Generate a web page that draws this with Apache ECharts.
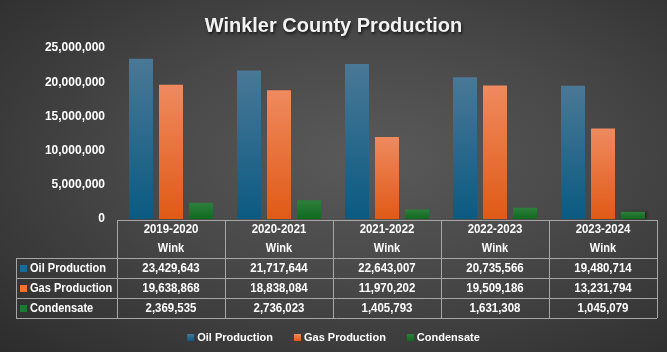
<!DOCTYPE html>
<html>
<head>
<meta charset="utf-8">
<script src="https://cdn.jsdelivr.net/npm/echarts@6/dist/echarts.min.js"></script>
<style>
  html, body { margin: 0; padding: 0; }
  #chart {
    width: 667px; height: 352px;
    background: radial-gradient(ellipse at 55% 45%, #5a5a5a 0%, #484848 45%, #2c2c2c 100%);
  }
</style>
</head>
<body>
<div id="chart"></div>
<script>
// data
var years = ['2019-2020', '2020-2021', '2021-2022', '2022-2023', '2023-2024'];
var county = 'Wink';
var seriesNames = ['Oil Production', 'Gas Production', 'Condensate'];
var oilProduction = [23429643, 21717644, 22643007, 20735566, 19480714];
var gasProduction = [19638868, 18838084, 11970202, 19509186, 13231794];
var condensate = [2369535, 2736023, 1405793, 1631308, 1045079];
var yTicks = [0, 5000000, 10000000, 15000000, 20000000, 25000000];

var FONT = '"Liberation Sans", Arial, sans-serif';
var solid = ['#1b6a93', '#f0732c', '#1e7a2c'];

function grad(top, bottom) {
  return new echarts.graphic.LinearGradient(0, 0, 0, 1, [
    { offset: 0, color: top },
    { offset: 1, color: bottom }
  ]);
}
var barColors = [
  grad('#4a7896', '#0b5a82'),
  grad('#ef8a5f', '#e05a16'),
  grad('#2f7f3c', '#0f6a1e')
];

function fmt(v) {
  return v.toString().replace(/\B(?=(\d{3})+(?!\d))/g, ',');
}

var chart = echarts.init(document.getElementById('chart'));

var values = [oilProduction, gasProduction, condensate];
var series = [];
for (var s = 0; s < 3; s++) {
  series.push({
    name: seriesNames[s],
    type: 'bar',
    data: values[s],
    barWidth: 24,
    barGap: '25%',
    itemStyle: {
      color: barColors[s],
      shadowColor: 'rgba(0,0,0,0.45)',
      shadowBlur: 3,
      shadowOffsetX: 2,
      shadowOffsetY: 0
    }
  });
}

chart.setOption({
  animation: false,
  backgroundColor: 'transparent',
  color: solid,
  title: {
    text: 'Winkler County Production',
    left: 'center',
    top: 11,
    textStyle: {
      color: '#f2f2f2',
      fontFamily: FONT,
      fontWeight: 'bold',
      fontSize: 20,
      textShadowColor: 'rgba(0,0,0,0.7)',
      textShadowBlur: 3,
      textShadowOffsetX: 1,
      textShadowOffsetY: 2
    }
  },
  legend: {
    bottom: 4,
    left: 'center',
    icon: 'rect',
    itemWidth: 7,
    itemHeight: 7,
    itemGap: 21,
    textStyle: { color: '#ffffff', fontFamily: FONT, fontWeight: 'bold', fontSize: 11, padding: [0, 0, 0, -2] },
    data: seriesNames
  },
  grid: { left: 117, right: 10, top: 48, bottom: 133 },
  xAxis: {
    type: 'category',
    data: years,
    axisLine: { show: false },
    axisTick: { show: false },
    axisLabel: { show: false }
  },
  yAxis: {
    type: 'value',
    min: yTicks[0],
    max: yTicks[yTicks.length - 1],
    interval: 5000000,
    splitLine: { show: false },
    axisLine: { show: false },
    axisTick: { show: false },
    axisLabel: {
      color: '#ffffff',
      fontFamily: FONT,
      fontWeight: 'bold',
      fontSize: 12,
      margin: 12,
      formatter: function (v) { return fmt(v); }
    }
  },
  series: series
});

// data table below the plot, aligned with the category axis
var lineCol = '#a6a6a6';
var g = [];
var half = chart.convertToPixel({ xAxisIndex: 0 }, 1) - chart.convertToPixel({ xAxisIndex: 0 }, 0);
half = half / 2;
var x0 = chart.convertToPixel({ xAxisIndex: 0 }, 0) - half;
var x1 = chart.convertToPixel({ xAxisIndex: 0 }, years.length - 1) + half;
var tableLeft = 16;
var rowY = [220, 258, 278, 298, 318];

function hline(xa, xb, y) {
  g.push({ type: 'line', shape: { x1: xa, y1: y + 0.5, x2: xb, y2: y + 0.5 }, style: { stroke: lineCol, lineWidth: 1 }, silent: true });
}
function vline(x, ya, yb) {
  g.push({ type: 'line', shape: { x1: x + 0.5, y1: ya, x2: x + 0.5, y2: yb }, style: { stroke: lineCol, lineWidth: 1 }, silent: true });
}
// narrow-looking text: bold 13px squeezed horizontally
function txt(x, y, s, align, sx) {
  g.push({
    type: 'text', x: x, y: y, scaleX: sx || 0.88, silent: true,
    style: { text: s, fill: '#ffffff', font: 'bold 13px ' + FONT, align: align || 'center', verticalAlign: 'middle' }
  });
}

hline(x0, x1, rowY[0]);
for (var r = 1; r < rowY.length; r++) hline(tableLeft, x1, rowY[r]);
vline(tableLeft, rowY[1], rowY[4]);
for (var c = 0; c <= years.length; c++) vline(Math.round(x0 + c * half * 2), rowY[0], rowY[4]);

for (var i = 0; i < years.length; i++) {
  var cx = chart.convertToPixel({ xAxisIndex: 0 }, i);
  txt(cx, 229, years[i]);
  txt(cx, 248, county, 'center', 0.85);
  for (var k = 0; k < 3; k++) {
    txt(cx, (rowY[k + 1] + rowY[k + 2]) / 2 + 0.5, fmt(values[k][i]));
  }
}
for (var k2 = 0; k2 < 3; k2++) {
  var ym = (rowY[k2 + 1] + rowY[k2 + 2]) / 2 + 0.5;
  g.push({ type: 'rect', shape: { x: 20, y: Math.round(ym - 3.5), width: 7, height: 7 }, style: { fill: solid[k2] }, silent: true });
  txt(30, ym, seriesNames[k2], 'left', 0.85);
}

chart.setOption({ graphic: g });
</script>
</body>
</html>
